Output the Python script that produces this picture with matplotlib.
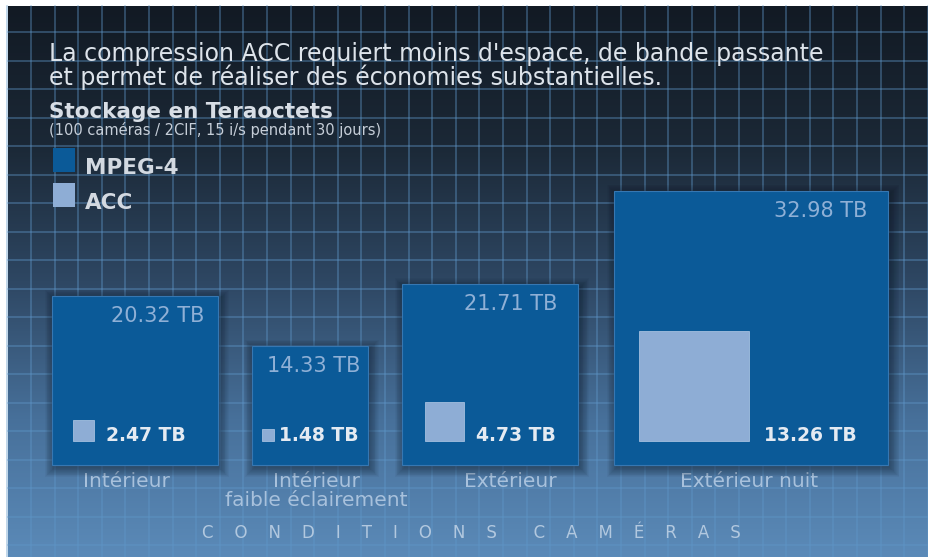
import numpy as np
import matplotlib
matplotlib.use("Agg")
import matplotlib.pyplot as plt
from matplotlib.patches import Rectangle
from matplotlib.colors import LinearSegmentedColormap

#---------------------------
# DATA
#---------------------------
categories = ["Intérieur", "Intérieur\nfaible éclairement", "Extérieur", "Extérieur nuit"]
series_names = ["MPEG-4", "ACC"]
mpeg4_tb = [20.32, 14.33, 21.71, 32.98]
acc_tb = [2.47, 1.48, 4.73, 13.26]

TITLE_1 = "La compression ACC requiert moins d'espace, de bande passante"
TITLE_2 = "et permet de réaliser des économies substantielles."
SUBTITLE = "Stockage en Teraoctets"
NOTE = "(100 caméras / 2CIF, 15 i/s pendant 30 jours)"
AXIS_TITLE = "       ".join(["    ".join("CONDITIONS"), "    ".join("CAMÉRAS")])

#---------------------------
# LAYOUT / STYLE
#---------------------------
W, H = 929, 557
PX_PER_TB = 8.32          # side of a square grows linearly with the value
BASE_Y = 465              # pixel row of the bottom of the big boxes
box_x_px = [52, 252, 402, 614]
box_w_ratio = [0.98, 0.97, 0.975, 1.0]
acc_dx_px = [21, 10, 23, 25]
mpeg_pad_px = [13, 7, 21, 21]
acc_gap_px = [12, 5, 12, 15]
cat_x_px = [126, 316, 510, 749]

MPEG_COLOR = "#0b5a98"
MPEG_EDGE = "#3677b2"
ACC_COLOR = "#8eadd5"
LABEL_BLUE = "#a8c1dc"

plt.rcParams["font.family"] = "DejaVu Sans"

fig = plt.figure(figsize=(W / 100, H / 100), dpi=100, facecolor="white")

# background in pixel coordinates
bg = fig.add_axes([0, 0, 1, 1])
bg.set_xlim(0, W)
bg.set_ylim(H, 0)
bg.axis("off")

grad_cmap = LinearSegmentedColormap.from_list(
    "bg", [(0.0, "#121a24"), (0.25, "#1b2836"), (0.5, "#2e4763"),
           (0.75, "#47709a"), (1.0, "#5b8ab8")])
grad = np.linspace(0, 1, 256).reshape(-1, 1)
bg.imshow(grad, cmap=grad_cmap, aspect="auto", extent=(8, W, H, 6), zorder=0)

for gx in np.arange(7.5, W, 23.6):
    bg.plot([gx, gx], [6, H], color="#5f97c9", alpha=0.5, lw=1.1, zorder=1)
for gy in np.arange(32, H, 28.5):
    bg.plot([8, W], [gy, gy], color="#5f97c9", alpha=0.5, lw=1.1, zorder=1)

# header text
bg.text(49, 61, TITLE_1, fontsize=17, color="#dde3ea", zorder=5)
bg.text(49, 85, TITLE_2, fontsize=17, color="#dde3ea", zorder=5)
bg.text(49, 118, SUBTITLE, fontsize=15.5, fontweight="bold", color="#d8dee6", zorder=5)
bg.text(49, 135, NOTE, fontsize=10.5, color="#c6ced8", zorder=5)

# legend
for i, (name, col) in enumerate(zip(series_names, [MPEG_COLOR, ACC_COLOR])):
    top = 148 + i * 35
    bg.add_patch(Rectangle((53, top), 22, 24, facecolor=col, edgecolor="none", zorder=5))
    bg.text(85, top + 26, name, fontsize=15.5, fontweight="bold", color="#d3d9e1", zorder=5)

# chart axes in TB units
ax = fig.add_axes([0, 0, 1, 1])
ax.set_xlim(0, W / PX_PER_TB)
ax.set_ylim(-(H - BASE_Y) / PX_PER_TB, BASE_Y / PX_PER_TB)
ax.axis("off")
ax.patch.set_alpha(0)

px = 1 / PX_PER_TB  # one pixel in TB units


def shadow(x, y, w, h, spread, dx, dy, color, alpha):
    for s in np.linspace(spread, 0, 12):
        ax.add_patch(Rectangle((x - s + dx, y - s + dy), w + 2 * s, h + 2 * s,
                               facecolor=color, edgecolor="none", alpha=alpha, zorder=2))


for i, (m, a) in enumerate(zip(mpeg4_tb, acc_tb)):
    x0 = box_x_px[i] * px
    w = m * box_w_ratio[i]
    shadow(x0, 0, w, m, 9 * px, 2 * px, -3 * px, "#07101c", 0.04)
    ax.add_patch(Rectangle((x0, 0), w, m, facecolor=MPEG_COLOR, edgecolor=MPEG_EDGE,
                           lw=0.8, zorder=3))
    ax.text(x0 + w - mpeg_pad_px[i] * px, m - 26 * px, f"{m:.2f} TB", ha="right",
            va="baseline", fontsize=15, color="#8fb0d6", zorder=6)

    ax0 = x0 + acc_dx_px[i] * px
    ay0 = 24 * px
    shadow(ax0, ay0, a, a, 7 * px, 3 * px, -4 * px, "#03182e", 0.05)
    ax.add_patch(Rectangle((ax0, ay0), a, a, facecolor=ACC_COLOR, edgecolor="#a4bfdf",
                           lw=0.6, zorder=4))
    ax.text(ax0 + a + acc_gap_px[i] * px, ay0, f"{a:.2f} TB", ha="left", va="baseline",
            fontsize=13.5, fontweight="bold", color="#e4eaf2", zorder=6)

# category labels
for cx, cat in zip(cat_x_px, categories):
    for j, line in enumerate(cat.split("\n")):
        bg.text(cx, 487 + 19 * j, line, ha="center", va="baseline", fontsize=14.5,
                color=LABEL_BLUE, zorder=5)

bg.text(471, 538, AXIS_TITLE, ha="center", va="baseline", fontsize=12,
        color="#b2c8df", zorder=5)

fig.savefig("out.png", dpi=100, facecolor="white")
